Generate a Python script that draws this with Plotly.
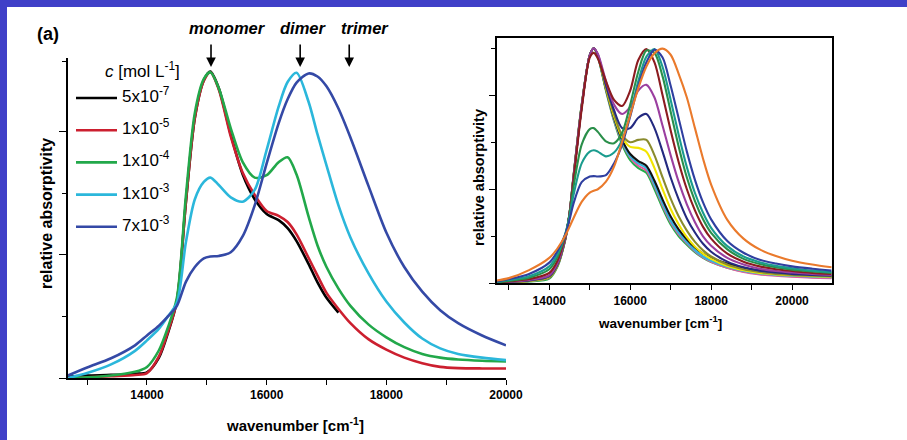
import plotly.graph_objects as go

# ---------------- data: left panel (concentration series) ----------------
wn_left = [12680, 13000, 13400, 13800, 14000, 14200, 14350, 14500, 14650, 14800, 14950,
           15060, 15200, 15400, 15600, 15800, 16000, 16200, 16350, 16500, 16700, 16850,
           17000, 17200, 17400, 17700, 18000, 18300, 18600, 18900, 19200, 19600, 20000]

conc_labels = ["5x10<sup>-7</sup>", "1x10<sup>-5</sup>", "1x10<sup>-4</sup>",
               "1x10<sup>-3</sup>", "7x10<sup>-3</sup>"]
conc_colors = ["#000000", "#cc1f2f", "#22a84a", "#2bb7db", "#3449a6"]

abs_5e7 = [0.02, 0.04, 0.05, 0.07, 0.09, 0.33, 0.73, 1.25, 2.85, 4.22, 4.83,
           4.97, 4.70, 3.95, 3.30, 2.90, 2.66, 2.56, 2.43, 2.22, 1.85, 1.55,
           1.30, 1.06, None, None, None, None, None, None, None, None, None]
abs_1e5 = [0.00, 0.01, 0.03, 0.05, 0.08, 0.35, 0.75, 1.25, 2.85, 4.22, 4.82,
           4.96, 4.68, 3.92, 3.33, 2.97, 2.71, 2.63, 2.53, 2.33, 1.95, 1.66,
           1.38, 1.12, 0.89, 0.63, 0.46, 0.33, 0.24, 0.18, 0.16, 0.155, 0.155]
abs_1e4 = [0.00, 0.01, 0.04, 0.10, 0.18, 0.45, 0.82, 1.30, 2.95, 4.30, 4.85,
           4.96, 4.70, 4.05, 3.50, 3.25, 3.29, 3.50, 3.58, 3.30, 2.62, 2.15,
           1.80, 1.45, 1.17, 0.87, 0.66, 0.50, 0.39, 0.33, 0.30, 0.28, 0.27]
abs_1e3 = [0.00, 0.08, 0.22, 0.44, 0.61, 0.80, 1.00, 1.22, 2.20, 2.90, 3.18,
           3.25, 3.13, 2.93, 2.86, 3.05, 3.70, 4.40, 4.80, 4.95, 4.48, 3.95,
           3.45, 2.80, 2.28, 1.70, 1.24, 0.90, 0.64, 0.48, 0.39, 0.33, 0.29]
abs_7e3 = [0.04, 0.17, 0.32, 0.53, 0.69, 0.85, 1.00, 1.17, 1.56, 1.80, 1.94,
           1.97, 1.98, 2.04, 2.30, 2.80, 3.48, 4.13, 4.52, 4.79, 4.94, 4.89,
           4.73, 4.37, 3.90, 3.12, 2.36, 1.80, 1.40, 1.10, 0.89, 0.69, 0.53]
left_series = [abs_5e7, abs_1e5, abs_1e4, abs_1e3, abs_7e3]

# ---------------- data: right panel (family of spectra) ----------------
wn_right = [12700, 13000, 13500, 14000, 14200, 14400, 14500, 14600, 14800, 15000, 15100,
            15200, 15400, 15600, 15800, 16000, 16200, 16400, 16600, 16800, 17000, 17200,
            17400, 17600, 17800, 18000, 18400, 18800, 19200, 19600, 20000, 20500, 20980]

right_colors = ["#23b04b", "#e75a9f", "#33b5dd", "#111111", "#f2e500", "#8a8b2e",
                "#242a80", "#9b3fa0", "#8c1c20", "#2a8f4a", "#1b9c8e", "#2f3fa0", "#ea7a2c"]

r_green = [0.00, 0.02, 0.04, 0.10, 0.35, 0.95, 1.50, 2.30, 3.80, 4.85, 5.00,
           4.82, 4.10, 3.45, 2.95, 2.62, 2.45, 2.35, 2.00, 1.60, 1.25, 1.00,
           0.82, 0.66, 0.54, 0.45, 0.33, 0.25, 0.20, 0.17, 0.15, 0.13, 0.12]
r_pink = [0.00, 0.02, 0.05, 0.12, 0.37, 0.95, 1.48, 2.28, 3.78, 4.85, 5.00,
          4.83, 4.12, 3.48, 3.00, 2.68, 2.50, 2.40, 2.07, 1.66, 1.30, 1.04,
          0.85, 0.68, 0.55, 0.46, 0.33, 0.24, 0.19, 0.16, 0.14, 0.12, 0.11]
r_cyan = [0.00, 0.02, 0.05, 0.13, 0.38, 0.96, 1.48, 2.27, 3.77, 4.85, 5.00,
          4.83, 4.12, 3.50, 3.02, 2.70, 2.55, 2.45, 2.10, 1.70, 1.33, 1.07,
          0.87, 0.70, 0.57, 0.48, 0.35, 0.26, 0.21, 0.18, 0.16, 0.14, 0.13]
r_black = [0.00, 0.03, 0.06, 0.13, 0.38, 0.96, 1.48, 2.28, 3.78, 4.85, 5.00,
           4.84, 4.14, 3.52, 3.05, 2.75, 2.60, 2.50, 2.18, 1.78, 1.42, 1.14,
           0.93, 0.76, 0.63, 0.54, 0.42, 0.33, 0.27, 0.23, 0.20, 0.17, 0.15]
r_yellow = [0.00, 0.02, 0.05, 0.13, 0.38, 0.97, 1.48, 2.27, 3.77, 4.85, 5.00,
            4.84, 4.15, 3.55, 3.10, 2.90, 2.88, 2.80, 2.45, 2.00, 1.58, 1.25,
            0.98, 0.78, 0.63, 0.52, 0.37, 0.28, 0.22, 0.19, 0.17, 0.15, 0.14]
r_olive = [0.00, 0.02, 0.05, 0.14, 0.39, 0.97, 1.47, 2.25, 3.75, 4.85, 5.00,
           4.85, 4.18, 3.60, 3.15, 3.00, 3.05, 3.05, 2.72, 2.25, 1.80, 1.42,
           1.12, 0.88, 0.70, 0.57, 0.40, 0.30, 0.24, 0.20, 0.18, 0.16, 0.15]
r_navy = [0.01, 0.03, 0.06, 0.15, 0.40, 0.98, 1.47, 2.25, 3.75, 4.85, 5.00,
          4.86, 4.22, 3.68, 3.30, 3.30, 3.52, 3.60, 3.30, 2.80, 2.25, 1.78,
          1.38, 1.08, 0.84, 0.67, 0.46, 0.34, 0.27, 0.23, 0.20, 0.18, 0.16]
r_purple = [0.01, 0.03, 0.07, 0.17, 0.42, 0.99, 1.47, 2.25, 3.75, 4.85, 5.00,
            4.88, 4.30, 3.80, 3.60, 3.75, 4.10, 4.22, 3.95, 3.35, 2.72, 2.15,
            1.68, 1.30, 1.00, 0.80, 0.54, 0.40, 0.31, 0.26, 0.23, 0.20, 0.18]
r_maroon = [0.01, 0.04, 0.09, 0.22, 0.48, 1.02, 1.47, 2.20, 3.70, 4.80, 4.90,
            4.78, 4.30, 3.90, 3.77, 4.10, 4.75, 4.98, 4.70, 4.00, 3.25, 2.57,
            2.00, 1.55, 1.20, 0.95, 0.63, 0.46, 0.36, 0.30, 0.26, 0.22, 0.20]
r_dkgreen = [0.02, 0.05, 0.12, 0.30, 0.56, 1.05, 1.45, 2.05, 2.95, 3.28, 3.30,
             3.22, 3.02, 2.98, 3.20, 3.80, 4.50, 4.95, 4.90, 4.40, 3.65, 2.90,
             2.25, 1.75, 1.36, 1.07, 0.72, 0.52, 0.41, 0.34, 0.29, 0.25, 0.22]
r_teal = [0.03, 0.07, 0.15, 0.36, 0.62, 1.07, 1.42, 1.88, 2.55, 2.80, 2.83,
          2.80, 2.70, 2.78, 3.05, 3.60, 4.30, 4.82, 4.98, 4.60, 3.90, 3.15,
          2.47, 1.92, 1.50, 1.18, 0.79, 0.57, 0.45, 0.37, 0.32, 0.27, 0.24]
r_blue = [0.04, 0.09, 0.20, 0.44, 0.68, 1.05, 1.35, 1.70, 2.15, 2.27, 2.28,
          2.27, 2.30, 2.55, 2.95, 3.55, 4.20, 4.70, 4.97, 4.80, 4.20, 3.50,
          2.80, 2.20, 1.72, 1.36, 0.90, 0.65, 0.50, 0.42, 0.36, 0.31, 0.27]
r_orange = [0.06, 0.11, 0.28, 0.54, 0.74, 1.02, 1.20, 1.39, 1.73, 1.93, 1.97,
            2.00, 2.16, 2.48, 3.01, 3.58, 4.15, 4.61, 4.89, 4.99, 4.86, 4.45,
            3.95, 3.30, 2.65, 2.10, 1.35, 0.95, 0.72, 0.58, 0.48, 0.40, 0.34]
right_series = [r_green, r_pink, r_cyan, r_black, r_yellow, r_olive, r_navy,
                r_purple, r_maroon, r_dkgreen, r_teal, r_blue, r_orange]

band_names = ["monomer", "dimer", "trimer"]
band_wn = [15070, 16560, 17380]

x_ticks = [14000, 16000, 18000, 20000]
x_minor = [13000, 15000, 17000, 19000]

# ---------------- figure ----------------
W, H = 907, 440
W_PLOT = 890          # horizontal extent that the page actually gives the drawing
FONT = "Liberation Sans, Arial, Helvetica, sans-serif"


def px(x):
    return min(x / W_PLOT, 1.0)


def py(y):
    return 1 - y / H


fig = go.Figure()

for ys, col in zip(left_series, conc_colors):
    fig.add_trace(go.Scatter(x=wn_left, y=ys, mode="lines",
                             line=dict(color=col, width=2.6, shape="spline", smoothing=0.8),
                             xaxis="x", yaxis="y", showlegend=False, hoverinfo="skip"))

for ys, col in zip(right_series, right_colors):
    fig.add_trace(go.Scatter(x=wn_right, y=ys, mode="lines",
                             line=dict(color=col, width=2.1, shape="spline", smoothing=0.8),
                             xaxis="x2", yaxis="y2", showlegend=False, hoverinfo="skip"))

tickfont = dict(family=FONT, size=12, color="black", weight="bold")

fig.update_layout(
    width=W, height=H, autosize=False,
    margin=dict(l=0, r=0, t=0, b=0, pad=0),
    paper_bgcolor="white", plot_bgcolor="rgba(0,0,0,0)",
    showlegend=False,
    xaxis=dict(domain=[px(68), px(506)], range=[12680, 20000], showline=True,
               linecolor="black", linewidth=1.6, ticks="outside", ticklen=5,
               tickwidth=1.3, tickcolor="black", tickvals=x_ticks,
               ticktext=[str(v) for v in x_ticks], tickfont=tickfont,
               minor=dict(tickvals=x_minor, ticks="outside", ticklen=5,
                          tickwidth=1.3, tickcolor="black"),
               showgrid=False, zeroline=False, anchor="y"),
    yaxis=dict(domain=[py(378), py(58)], range=[0, 5.19], showline=True,
               linecolor="black", linewidth=1.6, ticks="outside", ticklen=7,
               tickwidth=1.3, tickcolor="black", tickvals=[0, 2, 4],
               showticklabels=False,
               minor=dict(tickvals=[1, 3, 5.13], ticks="outside", ticklen=4,
                          tickwidth=1.3, tickcolor="black"),
               showgrid=False, zeroline=False, anchor="x"),
    xaxis2=dict(domain=[px(496.7), px(831.7)], range=[12700, 20980], showline=True,
                mirror=True, linecolor="black", linewidth=1.6, ticks="outside",
                ticklen=5, tickwidth=1.3, tickcolor="black", tickvals=x_ticks,
                ticktext=[str(v) for v in x_ticks], tickfont=tickfont,
                minor=dict(tickvals=x_minor, ticks="outside", ticklen=5,
                           tickwidth=1.3, tickcolor="black"),
                showgrid=False, zeroline=False, anchor="y2"),
    yaxis2=dict(domain=[py(283.3), py(38.3)], range=[0, 5.21], showline=True,
                mirror=True, linecolor="black", linewidth=1.6, ticks="outside",
                ticklen=6, tickwidth=1.3, tickcolor="black", tickvals=[0, 2, 4],
                showticklabels=False,
                minor=dict(tickvals=[1, 3, 5], ticks="outside", ticklen=4,
                           tickwidth=1.3, tickcolor="black"),
                showgrid=False, zeroline=False, anchor="x2"),
)

shapes = [
    dict(type="rect", xref="paper", yref="paper", x0=0, x1=W / W_PLOT, y0=py(7), y1=1,
         fillcolor="#4040c8", line=dict(width=0), layer="below"),
    dict(type="rect", xref="paper", yref="paper", x0=0, x1=px(7), y0=0, y1=1,
         fillcolor="#4040c8", line=dict(width=0), layer="below"),
]

annotations = []
bold = dict(family=FONT, color="black", weight="bold")


def label(text, x, y, size, angle=0, font=None, xanchor="center"):
    f = dict(size=size, **bold) if font is None else font
    return dict(text=text, x=px(x), y=py(y), xref="paper", yref="paper",
                xanchor=xanchor, yanchor="middle", showarrow=False,
                textangle=angle, font=f)


# axis titles
annotations.append(label("wavenumber [cm<sup>-1</sup>]", 295, 424, 15))
annotations.append(label("relative absorptivity", 46, 214, 16, angle=-90))
annotations.append(label("wavenumber [cm<sup>-1</sup>]", 660, 322, 13.5))
annotations.append(label("relative absorptivity", 479, 178, 14.5, angle=-90))
# panel label
annotations.append(label("(a)", 48, 34, 18))

# band labels + arrows
label_px = [228, 303, 365]
for name, wn, lx in zip(band_names, band_wn, label_px):
    annotations.append(label("<i>" + name + "</i>", lx, 28, 16.5))
    annotations.append(dict(text="", x=wn, y=py(67), xref="x", yref="paper",
                            showarrow=True, ax=0, ay=-24, arrowhead=2, arrowsize=1.2,
                            arrowwidth=1.6, arrowcolor="black"))

# manual legend
legend_font = dict(family=FONT, size=17, color="black")
annotations.append(label("<i>c</i> [mol L<sup>-1</sup>]", 103, 70, 17, font=legend_font,
                         xanchor="left"))
for i, (lab, col) in enumerate(zip(conc_labels, conc_colors)):
    yy = 98 + i * 32.2
    shapes.append(dict(type="line", xref="paper", yref="paper", x0=px(76), x1=px(117),
                       y0=py(yy), y1=py(yy), line=dict(color=col, width=2.6)))
    annotations.append(label(lab, 120, yy - 3, 17, font=legend_font, xanchor="left"))

fig.update_layout(shapes=shapes, annotations=annotations)

fig.write_html("out.html")
